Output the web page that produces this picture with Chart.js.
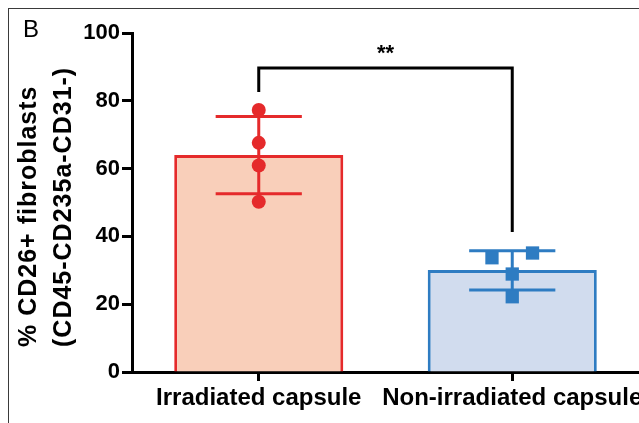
<!DOCTYPE html>
<html>
<head>
<meta charset="utf-8">
<script src="https://cdn.jsdelivr.net/npm/chart.js@4/dist/chart.umd.min.js"></script>
<style>
  html, body { margin: 0; padding: 0; background: #fff; overflow: hidden; width: 639px; height: 423px; }
  #wrap { position: absolute; left: 0; top: 0; width: 760px; height: 423px; }
  #frame { position: absolute; left: 8px; top: 8px; width: 800px; height: 500px;
           border-left: 1.5px solid #3a3a3a; border-top: 1.5px solid #3a3a3a; pointer-events: none; }
</style>
</head>
<body>
<div id="wrap"><canvas id="c"></canvas></div>
<div id="frame"></div>
<script>
// ---- data ----
const categories = ['Irradiated capsule', 'Non-irradiated capsule'];
const means = [64.0, 30.1];
const sdLow = [52.6, 24.2];
const sdHigh = [75.4, 35.8];
const irradiatedPoints = [77.3, 67.6, 60.9, 50.2];
const irradiatedOffsets = [0, 0, 0, 0];
const nonIrradiatedPoints = [33.7, 35.1, 28.9, 22.2];
const nonIrradiatedOffsets = [-0.08, 0.08, 0, 0];
const yTicks = [0, 20, 40, 60, 80, 100];
const bracket = { leftLow: 82.6, top: 89.7, rightLow: 41.3 };
const sigLabel = '**';
const sigLabelY = 92;
const yTitleLines = ['% CD26+ fibroblasts', '(CD45-CD235a-CD31-)'];
const panelLetter = 'B';

const capHalf = 0.17;
const RED = '#e52a2b', RED_FILL = '#f9cfba';
const BLUE = '#2e7cc2', BLUE_FILL = '#d1dcee';

Chart.defaults.font.family = "'Liberation Sans', Arial, Helvetica, sans-serif";
Chart.defaults.color = '#000';

function errorSegments(i) {
  return [
    { x: i - capHalf, y: sdHigh[i] }, { x: i + capHalf, y: sdHigh[i] }, { x: i, y: null },
    { x: i, y: sdHigh[i] }, { x: i, y: sdLow[i] }, { x: i, y: null },
    { x: i - capHalf, y: sdLow[i] }, { x: i + capHalf, y: sdLow[i] }
  ];
}

const textPlugin = {
  id: 'texts',
  afterDraw(chart) {
    const ctx = chart.ctx;
    const x2 = chart.scales.x2, y = chart.scales.y;
    ctx.save();
    ctx.fillStyle = '#000';
    ctx.font = "bold 22px 'Liberation Sans', Arial, sans-serif";
    ctx.textAlign = 'center';
    ctx.textBaseline = 'alphabetic';
    ctx.fillText(sigLabel, x2.getPixelForValue(0.5), y.getPixelForValue(sigLabelY));
    ctx.font = "24px 'Liberation Sans', Arial, sans-serif";
    ctx.textAlign = 'left';
    ctx.fillText(panelLetter, 23, 37);
    ctx.font = "bold 25px 'Liberation Sans', Arial, sans-serif";
    try { ctx.letterSpacing = '1px'; } catch (e) {}
    const baselines = [36, 71];
    yTitleLines.forEach((t, i) => {
      ctx.save();
      ctx.translate(baselines[i], 347);
      ctx.rotate(-Math.PI / 2);
      ctx.textAlign = 'left';
      ctx.textBaseline = 'alphabetic';
      ctx.fillText(t, 0, 0);
      ctx.restore();
    });
    ctx.restore();
  }
};

new Chart(document.getElementById('c'), {
  type: 'bar',
  data: {
    labels: categories,
    datasets: [
      {
        type: 'bar',
        data: means.map((v, i) => ({ x: i, y: v })),
        backgroundColor: [RED_FILL, BLUE_FILL],
        borderColor: [RED, BLUE],
        borderWidth: 3,
        borderSkipped: 'start',
        barPercentage: 0.667,
        categoryPercentage: 1.0,
        xAxisID: 'x2',
        order: 5
      },
      {
        type: 'line',
        data: errorSegments(0),
        xAxisID: 'x2',
        borderColor: RED,
        borderWidth: 3,
        pointRadius: 0,
        spanGaps: false,
        fill: false,
        order: 3
      },
      {
        type: 'line',
        data: errorSegments(1),
        xAxisID: 'x2',
        borderColor: BLUE,
        borderWidth: 3,
        pointRadius: 0,
        spanGaps: false,
        fill: false,
        order: 3
      },
      {
        type: 'line',
        data: irradiatedPoints.map((v, k) => ({ x: 0 + irradiatedOffsets[k], y: v })),
        xAxisID: 'x2',
        showLine: false,
        pointStyle: 'circle',
        pointRadius: 7,
        pointBackgroundColor: RED,
        pointBorderColor: RED,
        pointBorderWidth: 0,
        order: 1
      },
      {
        type: 'line',
        data: nonIrradiatedPoints.map((v, k) => ({ x: 1 + nonIrradiatedOffsets[k], y: v })),
        xAxisID: 'x2',
        showLine: false,
        pointStyle: 'rect',
        pointRadius: 9.4,
        pointBackgroundColor: BLUE,
        pointBorderColor: BLUE,
        pointBorderWidth: 0,
        order: 1
      },
      {
        type: 'line',
        data: [
          { x: 0, y: bracket.leftLow }, { x: 0, y: bracket.top },
          { x: 1, y: bracket.top }, { x: 1, y: bracket.rightLow }
        ],
        xAxisID: 'x2',
        borderColor: '#000',
        borderWidth: 3,
        borderJoinStyle: 'miter',
        pointRadius: 0,
        fill: false,
        order: 2
      }
    ]
  },
  options: {
    responsive: true,
    maintainAspectRatio: false,
    animation: false,
    devicePixelRatio: 1,
    layout: { padding: { left: 0, right: 121, top: 33, bottom: 0 } },
    plugins: { legend: { display: false }, tooltip: { enabled: false } },
    scales: {
      x: {
        type: 'category',
        offset: true,
        grid: { display: true, drawOnChartArea: false, offset: false, tickLength: 9, tickWidth: 3, tickColor: '#000' },
        border: { display: true, width: 3, color: '#000' },
        ticks: { font: { size: 24, weight: 'bold' }, color: '#000', padding: 3, maxRotation: 0, autoSkip: false },
        afterFit(s) { s.height = 51; }
      },
      x2: {
        type: 'linear',
        display: false,
        offset: false,
        min: -0.5,
        max: 1.5,
        afterBuildTicks(s) { s.ticks = [{ value: 0 }, { value: 1 }]; }
      },
      y: {
        min: 0,
        max: 100,
        afterBuildTicks(s) { s.ticks = yTicks.map(v => ({ value: v })); },
        grid: { display: true, drawOnChartArea: false, tickLength: 10, tickWidth: 3, tickColor: '#000' },
        border: { display: true, width: 3, color: '#000' },
        ticks: { font: { size: 22, weight: 'bold' }, color: '#000', padding: 2 },
        afterFit(s) { s.width = 132; }
      }
    }
  },
  plugins: [textPlugin]
});
</script>
</body>
</html>
